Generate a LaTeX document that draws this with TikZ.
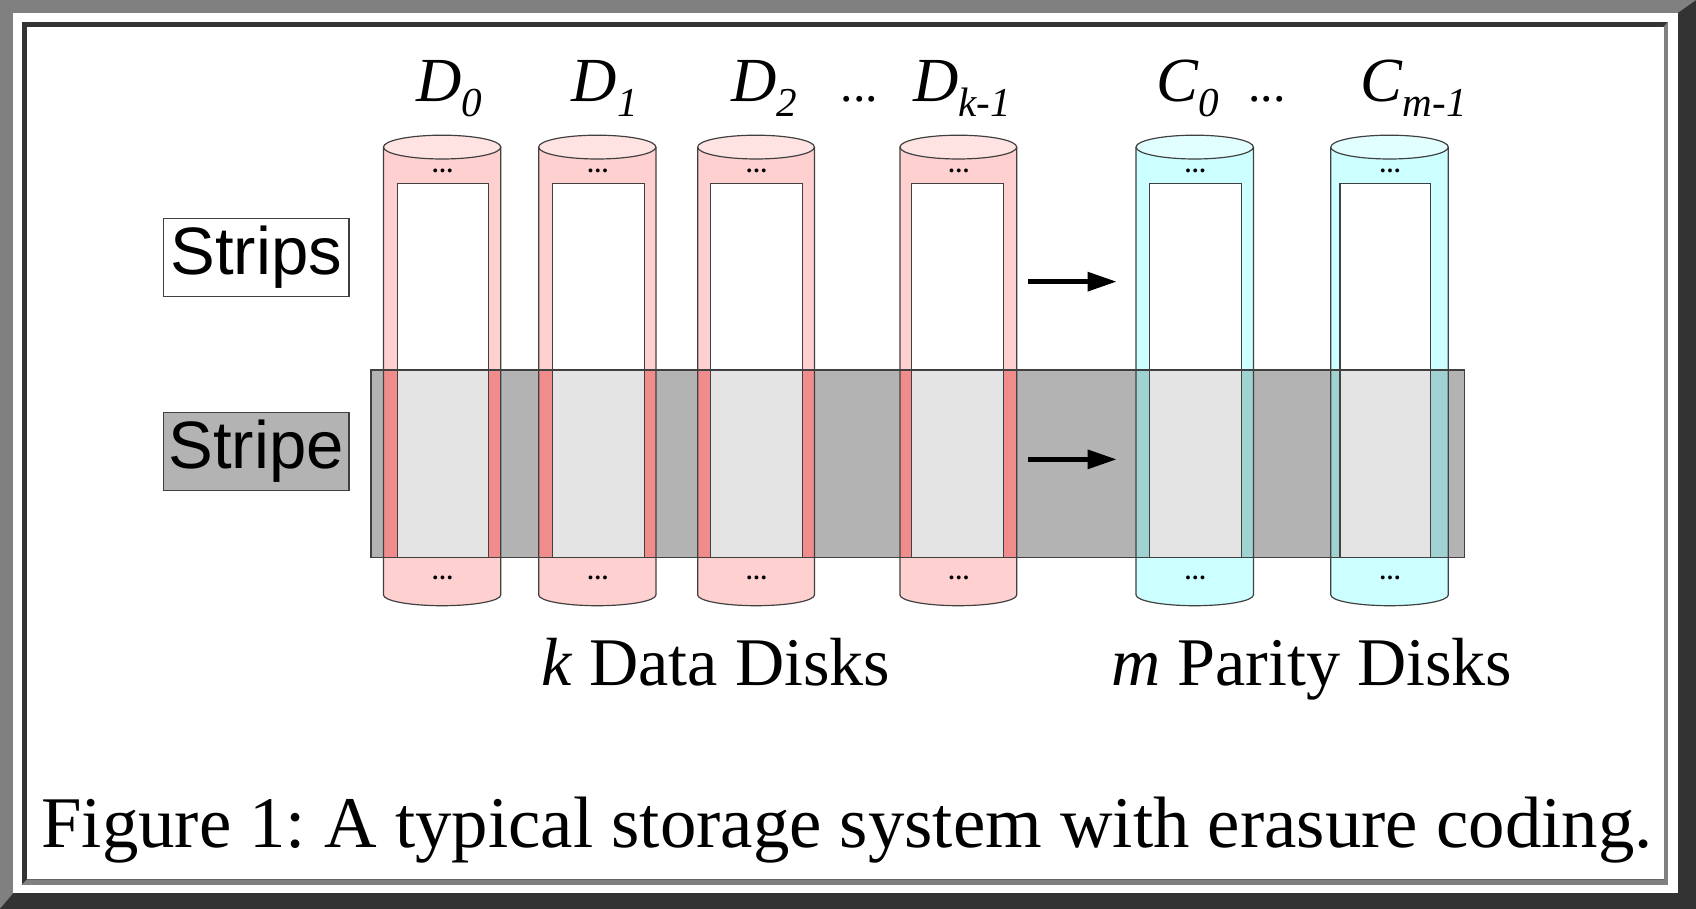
\documentclass[tikz,border=0pt]{standalone}
\usepackage{fontspec}
\setmainfont{Liberation Serif}
\newfontfamily\arialf{Liberation Sans}
\usetikzlibrary{arrows.meta}
\frenchspacing
\definecolor{framegray}{HTML}{808080}
\definecolor{framedark}{HTML}{333333}
\definecolor{edgec}{HTML}{404040}
\definecolor{stripegray}{HTML}{B3B3B3}
\definecolor{stripein}{HTML}{E4E4E4}
\definecolor{pinkbody}{HTML}{FFD0D0}
\definecolor{pinktop}{HTML}{FFE2E2}
\definecolor{pinkwall}{HTML}{F08C8C}
\definecolor{cyanbody}{HTML}{CCFFFF}
\definecolor{cyantop}{HTML}{E2FFFF}
\definecolor{cyanwall}{HTML}{A0D2D2}
\newcommand\dlab[2]{#1\raisebox{-14pt}{\fontsize{38}{38}\selectfont #2}}
\newcommand\wdots{.\kern1.2pt.\kern1.2pt.}
\tikzset{
  edge/.style={draw=edgec, line width=1.1pt},
  dots/.style={inner sep=0pt, font=\fontsize{22}{22}\selectfont\bfseries},
  toplab/.style={anchor=base west, inner sep=0pt, font=\fontsize{58}{60}\selectfont\itshape},
  sidebox/.style={draw=edgec, line width=1.2pt, minimum width=171.6pt, minimum height=72.4pt, inner sep=0pt, font=\fontsize{62}{62}\selectfont\arialf},
  bottomlab/.style={anchor=base west, inner sep=0pt, font=\fontsize{63}{65}\selectfont},
  flow/.style={line width=4.6pt, -{Triangle[length=27pt,width=17pt]}}
}
\begin{document}
\begin{tikzpicture}[x=1pt,y=1pt]
\useasboundingbox (0,0) rectangle (1568,840);
% outer 3D frame
\fill[framedark] (0,0) rectangle (1568,840);
\fill[framegray] (0,0) -- (0,840) -- (1568,840) -- (1551,828) -- (12,828) -- (12,14) -- cycle;
\fill[white] (12,14) rectangle (1551,828);
% inner 3D frame
\fill[framedark] (20,22) rectangle (1542,820);
\fill[framegray] (1542,820) -- (1542,22) -- (20,22) -- (25,27) -- (1538,27) -- (1538,815) -- cycle;
\fill[white] (25,27) rectangle (1538,815);
% stripe band
\fill[stripegray] (342.8,324.6) rectangle (1354,498);
% disks
\foreach \L/\R/\iL/\iR/\body/\top/\wall [count=\i] in {
  354.5/463/367.5/451.6/pinkbody/pinktop/pinkwall,
  498/606.4/510.8/595.6/pinkbody/pinktop/pinkwall,
  645/753/657/742/pinkbody/pinktop/pinkwall,
  832/940/843/928/pinkbody/pinktop/pinkwall,
  1050.3/1158.8/1062.6/1148/cyanbody/cyantop/cyanwall,
  1230.3/1339/1238.9/1322.2/cyanbody/cyantop/cyanwall}{
  \pgfmathsetmacro\cx{(\L+\R)/2}
  \pgfmathsetmacro\rx{(\R-\L)/2}
  \fill[\body] (\L,704) -- (\L,290) arc[start angle=180,end angle=360,x radius=\rx,y radius=10] -- (\R,704) -- cycle;
  \fill[\wall] (\L,324.6) rectangle (\R,498);
  \fill[white] (\iL,498) rectangle (\iR,670.5);
  \fill[stripein] (\iL,324.6) rectangle (\iR,498);
  \draw[edge] (\L,704) -- (\L,290) arc[start angle=180,end angle=360,x radius=\rx,y radius=10] -- (\R,704);
  \draw[edge] (\iL,324.6) rectangle (\iR,670.5);
  \draw[edge, fill=\top] (\cx,704) ellipse[x radius=\rx, y radius=11];
  \node[dots] (dt\i) at (\cx+0.5,682) {\wdots};
  \node[dots] (db\i) at (\cx+0.5,306) {\wdots};
}
% stripe outline
\draw[edge, line width=1.4pt] (342.8,324.6) rectangle (1354,498);
% disk labels
\node[toplab] (lD0) at (385,746) {\dlab{D}{0}};
\node[toplab] (lD1) at (528.5,746) {\dlab{D}{1}};
\node[toplab] (lD2) at (676,746) {\dlab{D}{2}};
\node[anchor=base west, inner sep=0pt, font=\fontsize{46}{46}\selectfont] (ldots1) at (777,746) {...};
\node[toplab] (lDk) at (844,746) {\dlab{D}{k-1}};
\node[toplab] (lC0) at (1069,746) {\dlab{C}{0}};
\node[anchor=base west, inner sep=0pt, font=\fontsize{46}{46}\selectfont] (ldots2) at (1154,746) {...};
\node[toplab] (lCm) at (1258,746) {\dlab{C}{m-1}};
% side boxes
\node[sidebox, fill=white] (strips) at (236.8,602) {Strips};
\node[sidebox, fill=stripegray] (stripe) at (236.8,422.5) {Stripe};
% arrows
\coordinate (a1s) at (950.7,579.6);
\coordinate (a1e) at (1032.5,579.6);
\coordinate (a2s) at (950.7,415.3);
\coordinate (a2e) at (1032.5,415.3);
\draw[flow] (a1s) -- (a1e);
\draw[flow] (a2s) -- (a2e);
% bottom labels
\node[bottomlab] (kdata) at (500,206) {\textit{k} Data Disks};
\node[bottomlab] (mpar) at (1027,206) {\textit{m} Parity Disks};
% caption
\node[anchor=base west, inner sep=0pt, font=\fontsize{67.3}{69}\selectfont] (cap) at (38,56) {Figure 1: A typical storage system with erasure coding.};
\end{tikzpicture}
\end{document}
